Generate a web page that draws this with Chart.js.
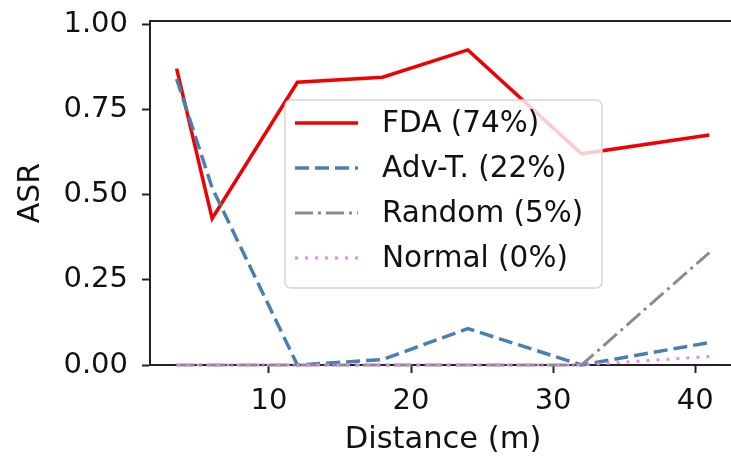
<!DOCTYPE html>
<html lang="en">
<head>
<meta charset="UTF-8">
<title>ASR vs Distance</title>
<script src="https://cdn.jsdelivr.net/npm/chart.js@4.4.1/dist/chart.umd.min.js"></script>
<style>
  html, body { margin: 0; padding: 0; background: #fff; overflow: hidden; }
  #wrap { width: 760px; height: 462px; }
</style>
</head>
<body>
<div id="wrap"><canvas id="asrChart"></canvas></div>
<script>
// values
const distances = [3.5, 6, 12, 18, 24, 32, 41];
const fdaAsr    = [0.87, 0.43, 0.83, 0.845, 0.925, 0.62, 0.675];
const advAsr    = [0.84, 0.52, 0.0, 0.016, 0.107, 0.0, 0.066];
const randomAsr = [0, 0, 0, 0, 0, 0, 0.33];
const normalAsr = [0, 0, 0, 0, 0, 0, 0.025];
const seriesNames = ['FDA (74%)', 'Adv-T. (22%)', 'Random (5%)', 'Normal (0%)'];
const xTicks = [10, 20, 30, 40];
const yTicks = [0, 0.25, 0.5, 0.75, 1.0];

const FONT = '"DejaVu Sans", sans-serif';
const INK = '#111';
const AXIS = '#222';

function pts(ys) {
    return distances.map((x, i) => ({ x: x, y: ys[i] }));
}

// matplotlib-style legend box inside the axes
const boxLegend = {
    id: 'boxLegend',
    afterDatasetsDraw(chart) {
        const { ctx, chartArea } = chart;
        const x0 = chartArea.left + 135, y0 = chartArea.top + 79, w = 317, h = 188;
        ctx.save();
        ctx.beginPath();
        ctx.roundRect(x0, y0, w, h, 6);
        ctx.fillStyle = 'rgba(255,255,255,0.8)';
        ctx.fill();
        ctx.strokeStyle = '#d6d6d6';
        ctx.lineWidth = 1.5;
        ctx.stroke();
        chart.data.datasets.forEach((ds, i) => {
            const cy = y0 + 23 + i * 45;
            ctx.beginPath();
            ctx.setLineDash(ds.borderDash || []);
            ctx.strokeStyle = ds.borderColor;
            ctx.lineWidth = ds.borderWidth;
            ctx.moveTo(x0 + 10, cy);
            ctx.lineTo(x0 + 73, cy);
            ctx.stroke();
            ctx.setLineDash([]);
            ctx.fillStyle = INK;
            ctx.font = '29.5px ' + FONT;
            ctx.textBaseline = 'middle';
            ctx.fillText(ds.label, x0 + 97, cy + 1);
        });
        ctx.restore();
    }
};

// top spine
const topSpine = {
    id: 'topSpine',
    afterDraw(chart) {
        const { ctx, chartArea } = chart;
        ctx.save();
        ctx.strokeStyle = AXIS;
        ctx.lineWidth = 2;
        ctx.beginPath();
        ctx.moveTo(chartArea.left - 1, chartArea.top);
        ctx.lineTo(chartArea.right, chartArea.top);
        ctx.stroke();
        ctx.restore();
    }
};

const ctx = document.getElementById('asrChart').getContext('2d');
const asrChart = new Chart(ctx, {
    type: 'line',
    data: {
        datasets: [
            { label: seriesNames[0], data: pts(fdaAsr), borderColor: '#f00000', borderWidth: 3.5, order: 4 },
            { label: seriesNames[1], data: pts(advAsr), borderColor: '#4a7fb0', borderWidth: 3.5, borderDash: [14, 6], order: 3 },
            { label: seriesNames[2], data: pts(randomAsr), borderColor: '#8c8c8c', borderWidth: 3, borderDash: [18, 5, 3, 5], order: 2 },
            { label: seriesNames[3], data: pts(normalAsr), borderColor: '#e58ae8', borderWidth: 3, borderDash: [3, 7], order: 1 }
        ]
    },
    options: {
        responsive: true,
        maintainAspectRatio: false,
        animation: false,
        layout: { padding: { top: 21, right: 24, left: 0, bottom: 0 } },
        elements: {
            point: { radius: 0 },
            line: { tension: 0, fill: false, borderCapStyle: 'butt' }
        },
        datasets: { line: { clip: 6 } },
        plugins: { legend: { display: false }, tooltip: { enabled: false } },
        scales: {
            x: {
                type: 'linear',
                min: 1.625,
                max: 42.875,
                afterBuildTicks: (axis) => { axis.ticks = xTicks.map(v => ({ value: v })); },
                afterFit: (axis) => { axis.height = 97; axis.paddingLeft = 0; axis.paddingRight = 0; },
                grid: { drawOnChartArea: false, drawTicks: true, tickLength: 8, tickWidth: 2, tickColor: AXIS },
                border: { display: true, color: AXIS, width: 2 },
                ticks: { color: INK, font: { family: FONT, size: 29 }, padding: 11, maxRotation: 0 },
                title: { display: true, text: 'Distance (m)', color: INK, font: { family: FONT, size: 30.5 }, padding: { top: 0, bottom: 4 } }
            },
            y: {
                type: 'linear',
                min: 0,
                max: 1.01,
                afterBuildTicks: (axis) => { axis.ticks = yTicks.map(v => ({ value: v })); },
                afterFit: (axis) => { axis.width = 150; axis.paddingTop = 0; axis.paddingBottom = 0; },
                grid: { drawOnChartArea: false, drawTicks: true, tickLength: 8, tickWidth: 2, tickColor: AXIS },
                border: { display: true, color: AXIS, width: 2 },
                ticks: { color: INK, font: { family: FONT, size: 29 }, padding: 14, callback: (v) => Number(v).toFixed(2) },
                title: { display: true, text: 'ASR', color: INK, font: { family: FONT, size: 30 }, padding: { top: 13, bottom: 0 } }
            }
        }
    },
    plugins: [boxLegend, topSpine]
});
</script>
</body>
</html>
